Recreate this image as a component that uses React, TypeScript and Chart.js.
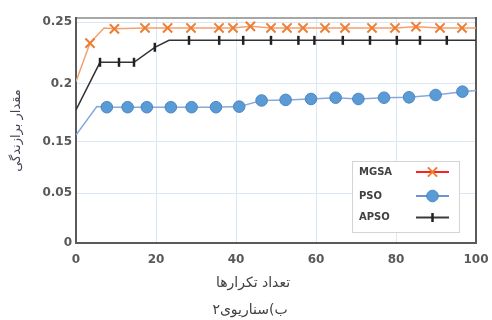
import { useEffect, useRef } from 'react';
import { Chart, registerables, LinearScale } from 'chart.js';

// ---- data -------------------------------------------------------------
const SERIES_LABELS = ['MGSA', 'PSO', 'APSO'];

const X_TICKS_STEP = 20;
const Y_TICKS = [0, 0.05, 0.15, 0.2, 0.25];

// MGSA: iteration, fitness, and whether the sample carries a marker
const MGSA_X = [0, 3.5, 7, 9.6, 17.25, 22.9, 28.75, 35.75, 39.25, 43.6, 48.75, 52.75, 56.75, 62.25, 67.25, 74, 79.75, 85, 91, 96.5, 100];
const MGSA_Y = [0.202, 0.233, 0.2452, 0.2445, 0.2452, 0.2452, 0.2452, 0.2452, 0.2452, 0.2465, 0.2452, 0.2452, 0.2452, 0.2452, 0.2452, 0.2452, 0.2452, 0.2462, 0.2452, 0.2452, 0.2452];
const MGSA_MARKED = [0, 1, 0, 1, 1, 1, 1, 1, 1, 1, 1, 1, 1, 1, 1, 1, 1, 1, 1, 1, 0];

const PSO_X = [0, 5.2, 7.7, 12.9, 17.7, 23.7, 28.9, 35, 40.8, 46.4, 52.4, 58.75, 64.9, 70.6, 77, 83.25, 89.9, 96.6, 100];
const PSO_Y = [0.156, 0.1805, 0.18, 0.18, 0.18, 0.18, 0.18, 0.18, 0.1805, 0.1858, 0.1863, 0.1871, 0.1882, 0.1871, 0.1882, 0.1885, 0.1905, 0.1934, 0.1943];
const PSO_MARKED = [0, 0, 1, 1, 1, 1, 1, 1, 1, 1, 1, 1, 1, 1, 1, 1, 1, 1, 0];

const APSO_X = [0, 6, 10.75, 14.5, 19.7, 23.25, 28.25, 35.8, 41.8, 48.75, 55.6, 59.6, 66.7, 73.5, 80.2, 86, 92.7, 100];
const APSO_Y = [0.1776, 0.2175, 0.2175, 0.2175, 0.2296, 0.2352, 0.2352, 0.2352, 0.2352, 0.2352, 0.2352, 0.2352, 0.2352, 0.2352, 0.2352, 0.2352, 0.2352, 0.2352];
const APSO_MARKED = [0, 1, 1, 1, 1, 0, 1, 1, 1, 1, 1, 1, 1, 1, 1, 1, 1, 0];

const X_TITLE = 'تعداد تکرارها';
const Y_TITLE = 'مقدار برازندگی';
const CAPTION = 'ب)سناریوی۲';

// ---- broken value axis ----------------------------------------------
// The fitness axis is drawn piecewise-linear between these knots.
const Y_MAX = 0.2532;
const KNOT_VALUES = [0, 0.05, 0.15, 0.2, 0.25, Y_MAX];
const KNOT_DECIMALS = [0, 0.2222, 0.4489, 0.7067, 0.9822, 1];

function piecewise(v: number, from: number[], to: number[]) {
  if (v <= from[0]) return to[0] + (v - from[0]) * (to[1] - to[0]) / (from[1] - from[0]);
  for (let i = 1; i < from.length; i++) {
    if (v <= from[i] || i === from.length - 1) {
      const t = (v - from[i - 1]) / (from[i] - from[i - 1]);
      return to[i - 1] + t * (to[i] - to[i - 1]);
    }
  }
  return to[to.length - 1];
}

class BrokenLinearScale extends LinearScale {
  static id = 'brokenLinear';
  static defaults = LinearScale.defaults;
  getPixelForValue(value: any) {
    if (value === null || value === undefined || isNaN(value)) return NaN;
    return this.getPixelForDecimal(piecewise(value, KNOT_VALUES, KNOT_DECIMALS));
  }
  getValueForPixel(pixel: number) {
    return piecewise(this.getDecimalForPixel(pixel), KNOT_DECIMALS, KNOT_VALUES);
  }
}

Chart.register(...registerables, BrokenLinearScale);

// ---- styles ---------------------------------------------------------------
const STYLES = [
  { line: '#F4A070', marker: '#ED7D31', fill: '#ED7D31', legendLine: '#FF2020', pointStyle: 'crossRot', radius: 6.5, rotation: 0, width: 2 },
  { line: '#86A8DC', marker: '#4A86C5', fill: '#5B9BD5', legendLine: '#6A93D2', pointStyle: 'circle', radius: 5.8, rotation: 0, width: 1 },
  { line: '#333333', marker: '#222222', fill: '#222222', legendLine: '#3A3A3A', pointStyle: 'line', radius: 4.5, rotation: 90, width: 2.5 },
];

const TICK_FONT = { family: 'DejaVu Sans', size: 12, weight: 'bold' as const };
const GRID_COLOR = '#DCE7F4';
const TEXT_COLOR = '#404040';

function drawMarker(ctx: CanvasRenderingContext2D, style: typeof STYLES[number], x: number, y: number) {
  ctx.save();
  ctx.strokeStyle = style.marker;
  ctx.fillStyle = style.fill;
  ctx.lineWidth = style.width;
  const r = style.radius;
  ctx.beginPath();
  if (style.pointStyle === 'circle') {
    ctx.arc(x, y, r, 0, Math.PI * 2);
    ctx.fill();
    ctx.stroke();
  } else if (style.pointStyle === 'crossRot') {
    const d = r * Math.SQRT1_2;
    ctx.moveTo(x - d, y - d);
    ctx.lineTo(x + d, y + d);
    ctx.moveTo(x + d, y - d);
    ctx.lineTo(x - d, y + d);
    ctx.stroke();
  } else {
    ctx.moveTo(x, y - r);
    ctx.lineTo(x, y + r);
    ctx.stroke();
  }
  ctx.restore();
}

const decorations = {
  id: 'decorations',
  beforeDatasetsDraw(chart: Chart) {
    const { ctx, chartArea: a } = chart;
    ctx.save();
    ctx.lineCap = 'square';
    ctx.strokeStyle = '#8A8A8A';
    ctx.lineWidth = 1.5;
    ctx.beginPath();
    ctx.moveTo(a.left, a.top);
    ctx.lineTo(a.right, a.top);
    ctx.stroke();
    ctx.strokeStyle = '#5A5A5A';
    ctx.lineWidth = 2;
    ctx.beginPath();
    ctx.moveTo(a.right, a.top);
    ctx.lineTo(a.right, a.bottom);
    ctx.lineTo(a.left, a.bottom);
    ctx.lineTo(a.left, a.top);
    ctx.stroke();
    ctx.restore();
  },
  afterDraw(chart: Chart) {
    const { ctx, chartArea: a } = chart;
    ctx.save();

    // legend box
    const bx = a.right - 124;
    const by = a.bottom - 82;
    const bw = 107;
    const bh = 71;
    ctx.fillStyle = '#FFFFFF';
    ctx.fillRect(bx, by, bw, bh);
    ctx.strokeStyle = '#D4D4D4';
    ctx.lineWidth = 1;
    ctx.strokeRect(bx + 0.5, by + 0.5, bw, bh);
    const rowY = [by + 11, by + 35, by + 56.5];
    ctx.font = 'bold 10px "DejaVu Sans"';
    ctx.textBaseline = 'middle';
    ctx.textAlign = 'left';
    SERIES_LABELS.forEach((label, i) => {
      const y = rowY[i];
      ctx.fillStyle = TEXT_COLOR;
      ctx.fillText(label, bx + 7, y);
      ctx.strokeStyle = STYLES[i].legendLine;
      ctx.lineWidth = 2;
      ctx.beginPath();
      ctx.moveTo(bx + 64, y);
      ctx.lineTo(bx + 97, y);
      ctx.stroke();
      drawMarker(ctx, STYLES[i], bx + 80.5, y);
    });

    // axis title and caption below the plot
    ctx.fillStyle = TEXT_COLOR;
    ctx.textAlign = 'center';
    ctx.textBaseline = 'middle';
    ctx.font = '14px "DejaVu Sans"';
    ctx.direction = 'rtl';
    ctx.fillText(X_TITLE, 253, a.bottom + 40);
    ctx.fillText(CAPTION, 250, a.bottom + 67);
    ctx.restore();
  },
};

function toPoints(xs: number[], ys: number[]) {
  return xs.map((x, i) => ({ x, y: ys[i] }));
}

export default function App() {
  const canvasRef = useRef<HTMLCanvasElement>(null);

  useEffect(() => {
    const canvas = canvasRef.current;
    if (!canvas) return;
    const marks = [MGSA_MARKED, PSO_MARKED, APSO_MARKED];
    const points = [
      toPoints(MGSA_X, MGSA_Y),
      toPoints(PSO_X, PSO_Y),
      toPoints(APSO_X, APSO_Y),
    ];
    // draw order: APSO, PSO, MGSA on top
    const datasets = [2, 1, 0].map((i) => {
      const s = STYLES[i];
      return {
        label: SERIES_LABELS[i],
        data: points[i],
        borderColor: s.line,
        borderWidth: 1.5,
        backgroundColor: s.fill,
        pointBackgroundColor: s.fill,
        pointBorderColor: s.marker,
        pointBorderWidth: s.width,
        pointStyle: s.pointStyle as any,
        pointRotation: s.rotation,
        pointRadius: (c: any) => (marks[i][c.dataIndex] ? s.radius : 0),
        pointHoverRadius: 0,
        tension: 0,
        fill: false,
      };
    });

    const chart = new Chart(canvas, {
      type: 'line',
      data: { datasets },
      options: {
        animation: false,
        responsive: false,
        maintainAspectRatio: false,
        layout: { padding: { left: 0, top: 18, right: 16, bottom: 0 } },
        plugins: {
          legend: { display: false },
          tooltip: { enabled: false },
          title: { display: false },
        },
        scales: {
          x: {
            type: 'linear',
            min: 0,
            max: 100,
            afterFit: (scale: any) => {
              scale.height = 77;
              scale.paddingLeft = 0;
              scale.paddingRight = 0;
            },
            ticks: { stepSize: X_TICKS_STEP, color: '#595959', font: TICK_FONT, padding: 10, maxRotation: 0 },
            grid: { color: GRID_COLOR, lineWidth: 1, drawTicks: false },
            border: { display: false },
          },
          y: {
            type: 'brokenLinear' as any,
            min: 0,
            max: Y_MAX,
            afterFit: (scale: any) => {
              scale.width = 76;
              scale.paddingTop = 0;
              scale.paddingBottom = 0;
            },
            afterBuildTicks: (scale: any) => { scale.ticks = Y_TICKS.map((value) => ({ value })); },
            ticks: {
              color: '#595959',
              font: TICK_FONT,
              padding: 4,
              callback: (v: any) => String(v),
            },
            grid: { color: GRID_COLOR, lineWidth: 1, drawTicks: false },
            border: { display: false },
            title: {
              display: true,
              text: Y_TITLE,
              color: '#4B4453',
              font: { family: 'DejaVu Sans', size: 13 },
              padding: { top: 9, bottom: 0 },
            },
          },
        },
      },
      plugins: [decorations],
    } as any);

    return () => chart.destroy();
  }, []);

  return (
    <div style={{ position: 'fixed', left: 0, top: 0, width: 492, height: 320, background: '#FFFFFF' }}>
      <canvas ref={canvasRef} width={492} height={320} />
    </div>
  );
}
